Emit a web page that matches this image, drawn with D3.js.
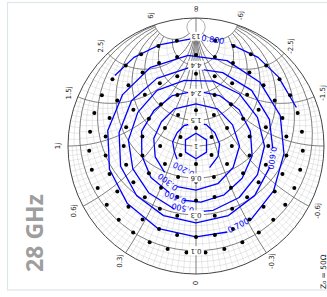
<!DOCTYPE html>
<html>
<head>
<meta charset="utf-8">
<script src="https://cdn.jsdelivr.net/npm/d3@7/dist/d3.min.js"></script>
<style>
  body { margin: 0; background: #fff; }
  svg { display: block; }
</style>
</head>
<body>
<div id="chart"></div>
<script>
// ---- data ----
// Smith chart tick values (normalised impedance)
const resistanceTicks = [0.1, 0.3, 0.6, 1, 1.5, 2.4, 4.4, 13];
const resistanceLabels = ["0.1", "0.3", "0.6", "1", "1.5", "2.4", "4.4", "13"];
const reactanceTicks = [0.3, 0.6, 1, 1.5, 2.5, 6];
const reactanceLabels = ["0.3j", "0.6j", "1j", "1.5j", "2.5j", "6j"];
const negReactanceLabels = ["-0.3j", "-0.6j", "", "-1.5j", "-2.5j", "-6j"];

// measured load points: ring |Γ| and angle of each point (deg)
const ringMag = [0.14, 0.28, 0.425, 0.565, 0.71, 0.835];
const ring1 = [0, 60, 120, 180, 240, 300];
const ring2 = [0, 30, 60, 90, 120, 150, 180, 210, 240, 270, 300, 330];
const ring3 = [0, 20, 40, 60, 80, 100, 120, 140, 160, 180, 200, 220, 240, 260, 280, 300, 320, 340];
const ring4 = [0, 15, 30, 45, 60, 75, 90, 105, 120, 135, 150, 165, 180, 195, 210, 225, 240, 255, 270, 285, 300, 315, 330, 345];
const ring5 = [0, 12, 24, 36, 48, 60, 72, 84, 96, 108, 120, 132, 144, 156, 168, 180, 192, 204, 216, 228, 240, 252, 264, 276, 288, 300, 312, 324, 336, 348];
const ring6 = [0, 10.3, 20.6, 30.9, 41.1, 51.4, 61.7, 72, 82.3, 92.6, 102.9, 113.1, 123.4, 133.7, 144, 154.3, 164.6, 174.9,
               185.1, 195.4, 205.7, 216, 226.3, 236.6, 246.9, 257.1, 267.4, 277.7, 288, 298.3, 308.6, 318.9, 329.1, 339.4, 349.7];
const rings = [ring1, ring2, ring3, ring4, ring5, ring6];

// contour levels and their traced vertices: [angle deg, |Γ|]
const contourLevels = [0.1, 0.2, 0.3, 0.4, 0.5, 0.6, 0.7, 0.8];
const contourText = ["0.100", "0.200", "0.300", "0.400", "0.500", "0.600", "0.700", "0.800"];
const contour010 = [[[0, 0.1], [60, 0.095], [120, 0.095], [180, 0.1], [240, 0.095], [300, 0.095], [360, 0.1]]];
const contour020 = [[[125, 0.18], [105, 0.175], [80, 0.185], [55, 0.18], [30, 0.185], [0, 0.18], [-25, 0.185],
                     [-55, 0.18], [-85, 0.185], [-115, 0.19], [-148, 0.2]]];
const contour030 = [[[130, 0.32], [105, 0.33], [80, 0.335], [55, 0.33], [30, 0.335], [0, 0.33], [-30, 0.335], [-60, 0.33],
                     [-90, 0.34], [-120, 0.335], [-150, 0.34], [-180, 0.345], [-205, 0.35]]];
const contour040 = [[[150, 0.42], [125, 0.43], [100, 0.43], [75, 0.44], [50, 0.43], [25, 0.435], [0, 0.43], [-25, 0.435],
                     [-50, 0.44], [-75, 0.44], [-100, 0.445], [-125, 0.44], [-150, 0.44], [-175, 0.44], [-193, 0.435]]];
const contour050 = [[[161, 0.52], [135, 0.52], [110, 0.525], [85, 0.53], [60, 0.525], [35, 0.53], [10, 0.52], [-15, 0.525],
                     [-40, 0.53], [-65, 0.53], [-90, 0.535], [-115, 0.53], [-140, 0.525], [-165, 0.52], [-184, 0.52]]];
const contour060 = [[[-92, 0.6], [-70, 0.61], [-45, 0.615], [-20, 0.61], [5, 0.615], [30, 0.61], [55, 0.615], [80, 0.61],
                     [105, 0.61], [130, 0.605], [155, 0.6], [180, 0.6], [205, 0.6], [230, 0.6], [254, 0.6]]];
const contour070 = [[[-144, 0.72], [-120, 0.7], [-95, 0.69], [-70, 0.7], [-45, 0.705], [-20, 0.71], [5, 0.71], [30, 0.71],
                     [55, 0.7], [80, 0.7], [105, 0.7], [130, 0.7], [155, 0.71], [180, 0.71], [200, 0.715]]];
const contour080 = [[[49, 0.84], [35, 0.845], [20, 0.84], [2, 0.84]],
                    [[-19, 0.84], [-35, 0.845], [-50, 0.84], [-69, 0.84]]];
const contours = [contour010, contour020, contour030, contour040, contour050, contour060, contour070, contour080];

// ---- layout ----
const W = 327, H = 297;
const cx = 196, cy = 146, R = 128;
// where each contour label sits (angle, |Γ|) and whether it is drawn flipped
const labelAt = [null, [152, 0.205], [142, 0.355], [158, 0.43], [168, 0.495], [-99, 0.6], [-152, 0.705], [-9, 0.84]];
const labelFlip = [0, 180, 180, 180, 180, 180, 0, 180];

const svg = d3.select("#chart").append("svg")
  .attr("width", W).attr("height", H);

// panel frame
svg.append("rect")
  .attr("x", 7.5).attr("y", 2.5).attr("width", 340).attr("height", 287.5)
  .attr("fill", "#fff").attr("stroke", "#dfe5ea").attr("stroke-width", 1.2);

// Γ plane -> screen (chart drawn with 0 at the bottom, ∞ at the top)
const sx = d3.scaleLinear().domain([-1, 1]).range([cx + R, cx - R]); // imag part
const sy = d3.scaleLinear().domain([-1, 1]).range([cy + R, cy - R]); // real part

function gamma(r, x) {
  if (!isFinite(r) || !isFinite(x)) return [1, 0];
  const den = (r + 1) * (r + 1) + x * x;
  return [(r * r + x * x - 1) / den, 2 * x / den];
}
const line = d3.line().x(d => sx(d[1])).y(d => sy(d[0]));

// resistance circle r between reactances xa..xb
function rArc(r, xa, xb) {
  const a = Math.atan(xa), b = Math.atan(xb), pts = [];
  for (let i = 0; i <= 60; i++) pts.push(gamma(r, Math.tan(a + (b - a) * i / 60)));
  return line(pts);
}
// reactance arc x between resistances ra..rb
function xArc(x, ra, rb) {
  const a = Math.atan(ra), b = isFinite(rb) ? Math.atan(rb) : Math.PI / 2 - 1e-6, pts = [];
  for (let i = 0; i <= 60; i++) pts.push(gamma(Math.tan(a + (b - a) * i / 60), x));
  return line(pts);
}
function dist(p, q) { return Math.hypot(sx(p[1]) - sx(q[1]), sy(p[0]) - sy(q[0])); }

svg.append("clipPath").attr("id", "unit").append("circle")
  .attr("cx", cx).attr("cy", cy).attr("r", R);

const grid = svg.append("g").attr("clip-path", "url(#unit)").attr("fill", "none");

// minor grid: subdivide each cell between major lines
const rEdges = [0].concat(resistanceTicks);
const xEdges = [0].concat(reactanceTicks);
const minor = grid.append("g").attr("stroke", "#cfcfcf").attr("stroke-width", 0.5);
for (let i = 0; i < rEdges.length - 1; i++) {
  for (let j = 0; j < xEdges.length - 1; j++) {
    const ra = rEdges[i], rb = rEdges[i + 1], xa = xEdges[j], xb = xEdges[j + 1];
    const rm = (ra + rb) / 2, xm = (xa + xb) / 2;
    const nr = Math.max(1, Math.min(10, Math.round(dist(gamma(ra, xm), gamma(rb, xm)) / 5.5)));
    const nx = Math.max(1, Math.min(12, Math.round(dist(gamma(rm, xa), gamma(rm, xb)) / 5.5)));
    [1, -1].forEach(s => {
      for (let k = 1; k < nr; k++) {
        const r = ra + (rb - ra) * k / nr;
        minor.append("path").attr("d", rArc(r, s * xa, s * xb));
      }
      for (let k = 1; k < nx; k++) {
        const x = s * (xa + (xb - xa) * k / nx);
        minor.append("path").attr("d", xArc(x, ra, rb));
      }
    });
  }
}

// major grid
const major = grid.append("g").attr("stroke", "#5e5e5e").attr("stroke-width", 0.8);
resistanceTicks.forEach(r => {
  if (r >= 13) {
    const c = gamma(r, 0), c2 = [1, 0];
    major.append("circle").attr("cx", sx(0)).attr("cy", (sy(c[0]) + sy(c2[0])) / 2)
      .attr("r", Math.abs(sy(c[0]) - sy(c2[0])) / 2).attr("stroke", "#9a9a9a");
  } else {
    major.append("path").attr("d", rArc(r, -6, 6));
  }
});
reactanceTicks.forEach(x => {
  major.append("path").attr("d", xArc(x, 0, 13));
  major.append("path").attr("d", xArc(-x, 0, 13));
});
major.append("line")
  .attr("x1", sx(0)).attr("x2", sx(0)).attr("y1", sy(-1)).attr("y2", sy(1));

svg.append("circle").attr("cx", cx).attr("cy", cy).attr("r", R)
  .attr("fill", "none").attr("stroke", "#444").attr("stroke-width", 1);

// contours
const polar = d => [d[1] * Math.cos(d[0] * Math.PI / 180), d[1] * Math.sin(d[0] * Math.PI / 180)];
const cg = svg.append("g").attr("fill", "none").attr("stroke", "#0000ff").attr("stroke-width", 1.3);
contours.forEach(segs => segs.forEach(seg => {
  cg.append("path").attr("d", line(seg.map(polar))).attr("stroke-linejoin", "round");
}));

// measured points
const dots = [];
rings.forEach((ring, i) => ring.forEach(a => dots.push(polar([a, ringMag[i]]))));
svg.append("g").selectAll("circle").data(dots).join("circle")
  .attr("cx", d => sx(d[1])).attr("cy", d => sy(d[0])).attr("r", 2)
  .attr("fill", "#000");

// contour labels
contourLevels.forEach((lv, i) => {
  if (!labelAt[i]) return;
  const t = labelAt[i][0] * Math.PI / 180;
  const p = polar(labelAt[i]);
  const ang = Math.atan2(Math.sin(t), -Math.cos(t)) * 180 / Math.PI + labelFlip[i];
  svg.append("text")
    .attr("transform", `translate(${sx(p[1])},${sy(p[0])}) rotate(${ang})`)
    .attr("text-anchor", "middle").attr("dominant-baseline", "central")
    .attr("font-family", "DejaVu Sans").attr("font-size", 8).attr("fill", "#0000ff")
    .text(contourText[i]);
});

// resistance labels along the real axis (white boxed, upside down)
const lab = svg.append("g").attr("font-family", "DejaVu Sans").attr("font-size", 7).attr("fill", "#222");
resistanceTicks.forEach((r, i) => {
  const g = gamma(r, 0);
  const grp = lab.append("g").attr("transform", `translate(${sx(0)},${sy(g[0])}) rotate(180)`);
  const w = resistanceLabels[i].length * 4.2 + 3;
  grp.append("rect").attr("x", -w / 2).attr("y", -4.5).attr("width", w).attr("height", 9).attr("fill", "#fff");
  grp.append("text").attr("text-anchor", "middle").attr("dominant-baseline", "central").text(resistanceLabels[i]);
});

// reactance labels outside the rim (the -1j one falls off the page and is left out)
reactanceTicks.forEach((x, i) => {
  [[1, reactanceLabels[i]], [-1, negReactanceLabels[i]]].forEach(([s, txt]) => {
    if (!txt) return;
    const g = gamma(0, s * x), k = 1 + 10 / R;
    lab.append("text")
      .attr("transform", `translate(${sx(g[1] * k)},${sy(g[0] * k)}) rotate(-90)`)
      .attr("text-anchor", "middle").attr("dominant-baseline", "central").text(txt);
  });
});
[["0", -1], ["\u221e", 1]].forEach(d => {
  lab.append("text")
    .attr("transform", `translate(${sx(0)},${sy(d[1] * (1 + 9 / R))}) rotate(-90)`)
    .attr("text-anchor", "middle").attr("dominant-baseline", "central")
    .attr("font-size", d[1] > 0 ? 9 : 7).text(d[0]);
});

// reference impedance note
svg.append("text")
  .attr("transform", "translate(323,289) rotate(-90)")
  .attr("font-family", "DejaVu Sans").attr("font-size", 7.5).attr("fill", "#222")
  .attr("dominant-baseline", "central")
  .text("Z\u2080 = 50\u03a9");

// frequency title
svg.append("text")
  .attr("transform", "translate(34,233) rotate(-90)")
  .attr("text-anchor", "middle").attr("dominant-baseline", "central")
  .attr("font-family", "Open Sans").attr("font-weight", "bold").attr("font-size", 23)
  .attr("fill", "#9e9e9e")
  .text("28 GHz");
</script>
</body>
</html>
